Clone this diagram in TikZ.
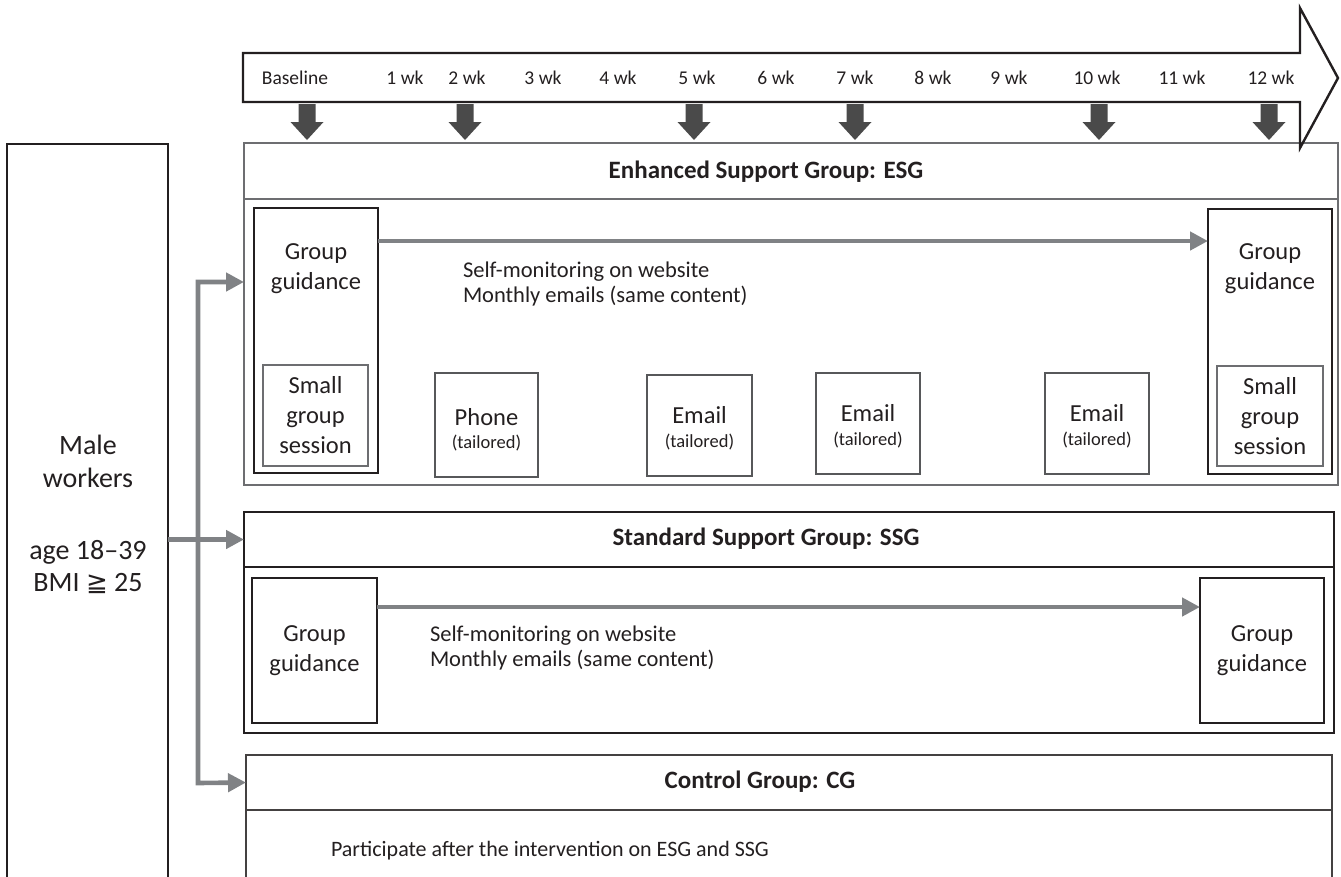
\documentclass[tikz,border=0pt]{standalone}
\usepackage{fontspec}
\setmainfont{Carlito}
\newfontfamily\symf{DejaVu Sans}
\usetikzlibrary{arrows.meta}
\definecolor{ink}{HTML}{231F20}
\definecolor{frgray}{HTML}{6D6E71}
\definecolor{dgray}{HTML}{4A4A4A}
\definecolor{lgray}{HTML}{808285}
\begin{document}
\begin{tikzpicture}[x=1pt,y=-1pt,
  every node/.style={inner sep=0pt,outer sep=0pt,text=ink},
  bigframe/.style={draw=ink,line width=2.4pt,anchor=north west},
  thinframe/.style={draw=frgray,line width=1.1pt,anchor=north west},
  midframe/.style={draw=frgray!80!black,line width=1.5pt,anchor=north west},
  hdr/.style={font=\fontsize{25}{28}\selectfont\bfseries},
  gtxt/.style={font=\fontsize{24.5}{30}\selectfont,align=center},
  smtxt/.style={font=\fontsize{18.5}{22}\selectfont,anchor=base},
  mtxt/.style={font=\fontsize{22.5}{27}\selectfont,anchor=base west},
  wk/.style={font=\fontsize{19.5}{22}\selectfont},
  garrow/.style={draw=lgray,line width=4.6pt,-{Triangle[length=18pt,width=18pt]}},
  gbus/.style={draw=lgray,line width=4.6pt,line join=miter,
     {Triangle[length=18pt,width=18pt]}-{Triangle[length=18pt,width=18pt]}},
]
\clip (0,0) rectangle (1341,876);

% ---------- left box ----------
\node[bigframe,line width=2pt,minimum width=161pt,minimum height=760pt] (male) at (7,144) {};
\node[font=\fontsize{28}{33}\selectfont,align=center] (maletxt) at (88,461) {Male\\workers};
\node[font=\fontsize{28}{32}\selectfont,align=center] (agetxt) at (88,567) {age 18–39\\BMI {\symf\fontsize{26}{32}\selectfont ≧} 25};

% ---------- ESG ----------
\node[thinframe,minimum width=1094pt,minimum height=56pt] (esgh) at (244,143) {};
\node[thinframe,minimum width=1094pt,minimum height=286pt] (esgb) at (244,199) {};
\node[hdr] (esgt) at (766,172) {Enhanced Support Group: ESG};

\node[bigframe,minimum width=124pt,minimum height=265pt] (gg1) at (254,208) {};
\node[thinframe,minimum width=105pt,minimum height=101pt] (sg1) at (263,365) {};
\node[gtxt] (gg1t) at (316,269) {Group\\guidance};
\node[gtxt] (sg1t) at (315.5,415) {Small\\group\\session};

\node[bigframe,minimum width=124pt,minimum height=265pt] (gg2) at (1208,209) {};
\node[thinframe,minimum width=106pt,minimum height=100pt] (sg2) at (1217,366) {};
\node[gtxt] (gg2t) at (1270,269) {Group\\guidance};
\node[gtxt] (sg2t) at (1270,416) {Small\\group\\session};

\coordinate (ya) at (0,241);
\draw[garrow] (gg1.east |- ya) -- (gg2.west |- ya);
\node[mtxt] (mon1) at (463,277) {Self-monitoring on website};
\node[mtxt] (mon2) at (463,302) {Monthly emails (same content)};

\node[midframe,minimum width=103pt,minimum height=104pt] (ph) at (435,373) {};
\node[gtxt,anchor=base] (pht) at (ph.center |- 0,425) {Phone};
\node[smtxt] (pht2) at (ph.center |- 0,448) {(tailored)};

\node[midframe,minimum width=105pt,minimum height=101pt] (em1) at (647,375) {};
\node[gtxt,anchor=base] (em1t) at (em1.center |- 0,423) {Email};
\node[smtxt] (em1t2) at (em1.center |- 0,447) {(tailored)};

\node[midframe,minimum width=104pt,minimum height=101pt] (em2) at (816,373) {};
\node[gtxt,anchor=base] (em2t) at (em2.center |- 0,421) {Email};
\node[smtxt] (em2t2) at (em2.center |- 0,445) {(tailored)};

\node[midframe,minimum width=104pt,minimum height=101pt] (em3) at (1045,373) {};
\node[gtxt,anchor=base] (em3t) at (em3.center |- 0,421) {Email};
\node[smtxt] (em3t2) at (em3.center |- 0,445) {(tailored)};

% ---------- SSG ----------
\node[bigframe,line width=2.2pt,minimum width=1090pt,minimum height=55pt] (ssgh) at (244,512) {};
\node[bigframe,line width=2.2pt,minimum width=1090pt,minimum height=166pt] (ssgb) at (244,567) {};
\node[hdr] (ssgt) at (766,539) {Standard Support Group: SSG};

\node[bigframe,line width=2.2pt,minimum width=125pt,minimum height=145pt] (sgg1) at (252,578) {};
\node[gtxt] (sgg1t) at (314.5,651) {Group\\guidance};
\node[bigframe,line width=2.2pt,minimum width=124pt,minimum height=145pt] (sgg2) at (1200,578) {};
\node[gtxt] (sgg2t) at (1262,651) {Group\\guidance};

\coordinate (yb) at (0,607);
\draw[garrow] (sgg1.east |- yb) -- (sgg2.west |- yb);
\node[mtxt] (smon1) at (430,641) {Self-monitoring on website};
\node[mtxt] (smon2) at (430,666) {Monthly emails (same content)};

% ---------- CG ----------
\node[draw=ink!85,line width=1.2pt,anchor=north west,minimum width=1086pt,minimum height=55pt] (cgh) at (246,755) {};
\node[draw=ink!85,line width=1.2pt,anchor=north west,minimum width=1086pt,minimum height=200pt] (cgb) at (246,810) {};
\node[hdr] (cgt) at (760,782) {Control Group: CG};
\node[mtxt,font=\fontsize{22}{26}\selectfont] (cgtx) at (331,856) {Participate after the intervention on ESG and SSG};

% ---------- connectors ----------
\draw[garrow] (male.east |- ssgh.west) -- (ssgh.west);
\coordinate (bus1) at (198,282);
\coordinate (bus2) at (198,783);
\draw[gbus] (esgb.west |- bus1) -- (bus1) -- (bus2) -- (cgh.west);

% ---------- timeline ----------
\draw[draw=ink,line width=2.4pt,line join=miter]
  (243,53) -- (1300,53) -- (1300,8) -- (1338,78) -- (1300,148) -- (1300,102) -- (243,102) -- cycle;
\foreach \n/\x/\t in {w0/295/Baseline,w1/405/1 wk,w2/467/2 wk,w3/543/3 wk,w4/618/4 wk,w5/697/5 wk,w6/776/6 wk,w7/855/7 wk,w8/933/8 wk,w9/1009/9 wk,w10/1097/10 wk,w11/1182/11 wk,w12/1271/12 wk}
  \node[wk] (\n) at (\x,78) {\t};
\foreach \x in {307,465,694,855,1099,1269}
  \fill[dgray] (\x-8.5,104) -- (\x+8.5,104) -- (\x+8.5,122) -- (\x+16.5,122)
     -- (\x,140) -- (\x-16.5,122) -- (\x-8.5,122) -- cycle;
\end{tikzpicture}
\end{document}
